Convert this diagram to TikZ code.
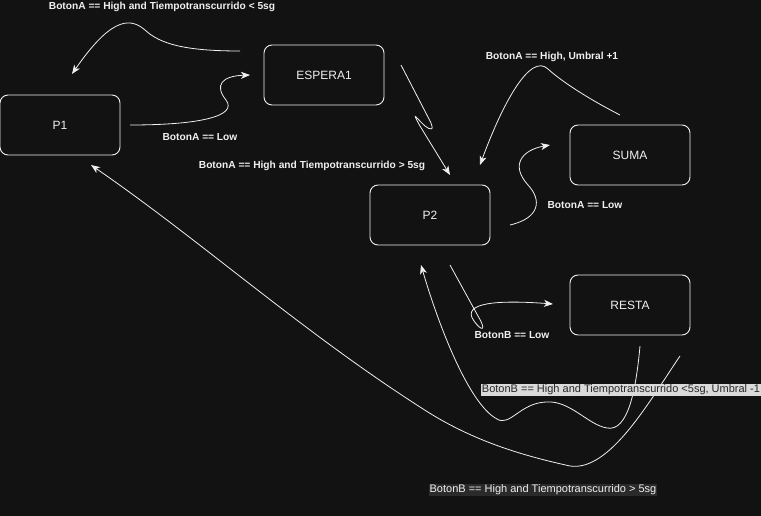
\documentclass[tikz,border=0pt]{standalone}
\usepackage{fontspec}
\setmainfont{Liberation Sans}
\usetikzlibrary{arrows.meta}
\definecolor{canvas}{HTML}{121212}
\definecolor{ink}{HTML}{F0F0F0}
\definecolor{lightlab}{HTML}{DADADA}
\definecolor{darklab}{HTML}{2A2A2A}
\begin{document}
\begin{tikzpicture}[x=1pt,y=-1pt,
  state/.style={draw=ink, line width=0.9pt, fill=canvas, rounded corners=8pt,
    minimum width=120pt, minimum height=60pt, inner sep=0pt,
    text=ink, font=\fontsize{12}{14}\selectfont},
  cond/.style={text=ink, font=\fontsize{10.2}{12}\selectfont\bfseries, inner sep=1pt},
  condlight/.style={fill=lightlab, text=black!85, font=\fontsize{11}{12}\selectfont, inner sep=1pt},
  conddark/.style={fill=darklab, text=ink, font=\fontsize{11}{12}\selectfont, inner sep=1pt},
  trans/.style={draw=ink, line width=0.8pt, -{Stealth[length=9pt,width=7pt,inset=2.5pt]}}]
\fill[canvas] (0,0) rectangle (761,516);
\useasboundingbox (0,0) rectangle (761,516);

% states
\node[state] (p1) at (60,125) {P1};
\node[state] (espera) at (324,75) {ESPERA1};
\node[state] (p2) at (430,215) {P2};
\node[state] (suma) at (630,155) {SUMA};
\node[state] (resta) at (630,305) {RESTA};

% free ends of the transitions
\coordinate (eOut) at ([shift={(-84,-24)}]espera.center);
\coordinate (eOut2) at ([shift={(77,-10)}]espera.center);
\coordinate (pIn1) at ([shift={(12,-51)}]p1.center);
\coordinate (pIn2) at ([shift={(31,40)}]p1.center);
\coordinate (p1Out) at ([shift={(70,0)}]p1.center);
\coordinate (eIn) at ([shift={(-74,0)}]espera.center);
\coordinate (p2In1) at ([shift={(20,-40)}]p2.center);
\coordinate (p2In2) at ([shift={(50,-50)}]p2.center);
\coordinate (p2In3) at ([shift={(-9,50)}]p2.center);
\coordinate (p2Out1) at ([shift={(80,10)}]p2.center);
\coordinate (p2Out2) at ([shift={(20,50)}]p2.center);
\coordinate (sOut) at ([shift={(-10,-40)}]suma.center);
\coordinate (sIn) at ([shift={(-80,-10)}]suma.center);
\coordinate (rIn) at ([shift={(-77,-1)}]resta.center);
\coordinate (rOut1) at ([shift={(10,41)}]resta.center);
\coordinate (rOut2) at ([shift={(50,51)}]resta.center);

% ESPERA1 -> P1
\draw[trans] (eOut) .. controls (185,51) and (160,44) .. (145,30)
  .. controls (128,15) and (108,22) .. (pIn1);
% P1 -> ESPERA1
\draw[trans] (p1Out) .. controls (200,125) and (238,116) .. (226,100)
  .. controls (214,85) and (222,76) .. (eIn);
% ESPERA1 -> P2
\draw[trans] (eOut2) -- (429,119) .. controls (436,132) and (430,130) .. (425,126)
  .. controls (418,120) and (410,108) .. (420,126) -- (p2In1);
% SUMA -> P2
\draw[trans] (sOut) .. controls (585,97) and (560,80) .. (548,69)
  .. controls (530,52) and (502,105) .. (p2In2);
% P2 -> SUMA
\draw[trans] (p2Out1) .. controls (540,218) and (542,200) .. (528,185)
  .. controls (510,165) and (522,150) .. (sIn);
% P2 -> RESTA
\draw[trans] (p2Out2) -- (478,316) .. controls (487,331) and (482,332) .. (474,321)
  .. controls (460,302) and (500,300) .. (rIn);
% RESTA -> P2
\draw[trans] (rOut1) .. controls (636,390) and (628,432) .. (607,428)
  .. controls (588,425) and (570,400) .. (546,402)
  .. controls (520,403) and (510,427) .. (497,419)
  .. controls (470,405) and (440,330) .. (p2In3);
% RESTA -> P1
\draw[trans] (rOut2) .. controls (650,400) and (610,472) .. (570,466)
  .. controls (520,455) and (470,440) .. (420,407)
  .. controls (300,330) and (200,240) .. (pIn2);

% transition conditions
\node[cond] (c1) at (162,7) {BotonA == High and Tiempotranscurrido < 5sg};
\node[cond] (c2) at (200,137) {BotonA == Low};
\node[cond] (c3) at (312,166) {BotonA == High and Tiempotranscurrido > 5sg};
\node[cond] (c4) at (552,57) {BotonA == High, Umbral +1};
\node[cond] (c5) at (585,205) {BotonA == Low};
\node[cond] (c6) at (512,335) {BotonB == Low};
\node[condlight] (c7) at (621,390) {BotonB == High and Tiempotranscurrido <5sg, Umbral -1};
\node[conddark] (c8) at (543,490) {BotonB == High and Tiempotranscurrido > 5sg};
\end{tikzpicture}
\end{document}
